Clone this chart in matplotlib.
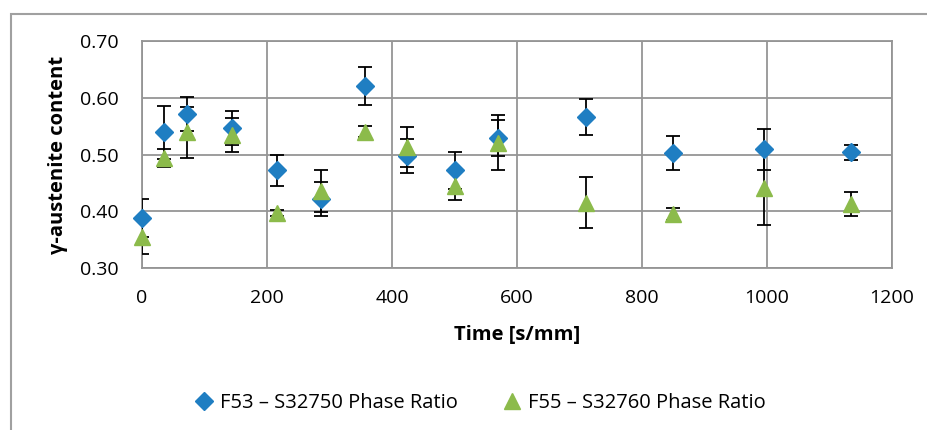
import matplotlib.pyplot as plt
from matplotlib.patches import Rectangle

plt.rcParams['font.family'] = ['Open Sans', 'DejaVu Sans']

time = [0, 36, 72, 144, 216, 286, 356, 424, 500, 570, 710, 850, 995, 1135]

f53 = [0.388, 0.539, 0.572, 0.546, 0.472, 0.421, 0.621, 0.497, 0.472, 0.529,
       0.566, 0.503, 0.509, 0.504]
f53_err = [0.034, 0.047, 0.030, 0.030, 0.027, 0.030, 0.034, 0.030, 0.033, 0.032,
           0.032, 0.030, 0.036, 0.013]

f55 = [0.355, 0.494, 0.539, 0.535, 0.397, 0.435, 0.540, 0.513, 0.445, 0.521,
       0.415, 0.395, 0.441, 0.413]
f55_err = [0.030, 0.016, 0.045, 0.030, 0.006, 0.037, 0.010, 0.035, 0.026, 0.048,
           0.045, 0.010, 0.065, 0.021]

blue = '#1f7ec2'
green = '#8cbb4b'
grid_c = '#959595'

fig = plt.figure(figsize=(9.28, 4.3), dpi=100)
ax = fig.add_axes([142/928, 1-268/430, 750/928, 227/430])

# outer chart frame
fig.patches.append(Rectangle((11/928, -0.1), 1.2, 1-14/430+0.1, transform=fig.transFigure,
                             fill=False, edgecolor='#a0a0a0', linewidth=1.5))

ax.errorbar(time, f53, yerr=f53_err, fmt='none', ecolor='black', elinewidth=1.3,
            capsize=5, capthick=1.3, zorder=3)
ax.errorbar(time, f55, yerr=f55_err, fmt='none', ecolor='black', elinewidth=1.3,
            capsize=5, capthick=1.3, zorder=3)
ax.plot(time, f53, linestyle='none', marker='D', color=blue, markersize=9.5,
        label='F53 \u2013 S32750 Phase Ratio', zorder=4, clip_on=False)
ax.plot(time, f55, linestyle='none', marker='^', color=green, markersize=11.5,
        label='F55 \u2013 S32760 Phase Ratio', zorder=5, clip_on=False)

ax.set_xlim(0, 1200)
ax.set_ylim(0.30, 0.70)
ax.set_xticks(range(0, 1201, 200))
ax.set_yticks([0.30, 0.40, 0.50, 0.60, 0.70])
ax.set_yticklabels(['%.2f' % v for v in [0.30, 0.40, 0.50, 0.60, 0.70]])
ax.tick_params(length=0, labelsize=14)
ax.tick_params(axis='y', pad=17)
ax.tick_params(axis='x', pad=15)
ax.grid(True, color=grid_c, linewidth=1.3)
ax.set_axisbelow(True)
for s in ax.spines.values():
    s.set_color(grid_c)
    s.set_linewidth(1.3)

ax.set_xlabel('Time [s/mm]', fontsize=14.5, fontweight='bold')
ax.set_ylabel('\u03b3-austenite content', fontsize=14.5, fontweight='bold')
ax.xaxis.set_label_coords(0.5, (268-325)/227)
ax.yaxis.set_label_coords((68-142)/750, 0.5)

fig.legend(loc='center', bbox_to_anchor=(480/928, 1-403/430), ncol=2, frameon=False,
           fontsize=14.5, handletextpad=0.3, columnspacing=2.2, handlelength=1.0)

fig.savefig('out.png', dpi=100)
